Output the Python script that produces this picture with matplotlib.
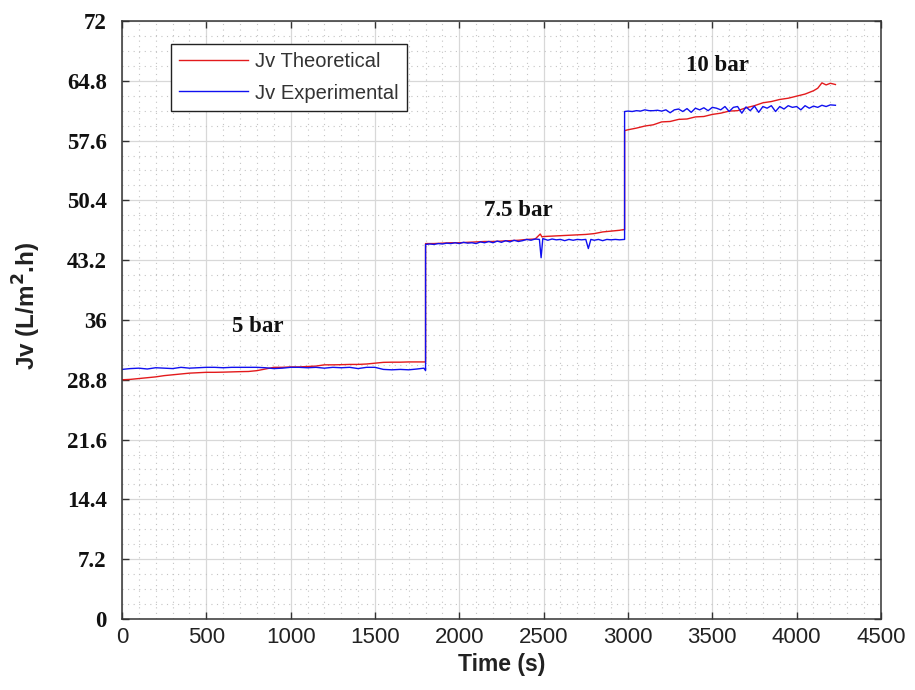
import matplotlib
matplotlib.use("Agg")
import matplotlib.pyplot as plt
from matplotlib.ticker import MultipleLocator
import numpy as np

# theoretical flux (red)
t_theo = [0, 50, 100, 150, 200, 250, 300, 350, 400, 450, 500, 550, 600, 650, 700, 750, 800, 850,
          900, 950, 1000, 1050, 1100, 1150, 1200, 1250, 1300, 1350, 1400, 1450, 1500, 1550, 1600,
          1650, 1700, 1750, 1800,
          1800, 1850, 1900, 1950, 2000, 2050, 2100, 2150, 2200, 2250, 2300, 2350, 2400, 2450,
          2480, 2490, 2500, 2550, 2600, 2650, 2700, 2750, 2800, 2850, 2900, 2950, 2980,
          2980, 3000, 3050, 3100, 3150, 3200, 3250, 3300, 3350, 3400, 3450, 3500, 3550, 3600,
          3650, 3700, 3750, 3800, 3850, 3900, 3950, 4000, 4050, 4100, 4125, 4150, 4175, 4200, 4230]
jv_theo = [28.8, 28.85, 28.95, 29.05, 29.15, 29.3, 29.4, 29.5, 29.6, 29.65, 29.7, 29.7, 29.72,
           29.75, 29.78, 29.8, 29.9, 30.1, 30.3, 30.3, 30.35, 30.35, 30.4, 30.45, 30.6, 30.6,
           30.62, 30.65, 30.65, 30.7, 30.8, 30.9, 30.92, 30.92, 30.95, 30.95, 30.95,
           45.2, 45.2, 45.25, 45.3, 45.3, 45.35, 45.4, 45.45, 45.45, 45.5, 45.55, 45.6, 45.7,
           45.75, 46.35, 46.0, 46.05, 46.1, 46.15, 46.2, 46.25, 46.3, 46.4, 46.6, 46.7, 46.8, 46.9,
           58.8, 58.9, 59.1, 59.35, 59.5, 59.85, 59.9, 60.15, 60.2, 60.45, 60.5, 60.75, 60.9,
           61.15, 61.2, 61.55, 61.8, 62.15, 62.3, 62.55, 62.7, 62.95, 63.2, 63.6, 63.9, 64.55,
           64.3, 64.5, 64.35]

# experimental flux (blue)
t_exp = [0, 50, 100, 150, 200, 250, 300, 350, 400, 450, 500, 550, 600, 650, 700, 750, 800, 850,
         900, 950, 1000, 1050, 1100, 1150, 1200, 1250, 1300, 1350, 1400, 1450, 1500, 1550, 1600,
         1650, 1700, 1750, 1790, 1800,
         1800, 1825, 1850, 1875, 1900, 1925, 1950, 1975, 2000, 2025, 2050, 2075, 2100, 2125,
         2150, 2175, 2200, 2225, 2250, 2275, 2300, 2325, 2350, 2375, 2400, 2425, 2450, 2475,
         2485, 2495, 2525, 2550, 2575, 2600, 2625, 2650, 2675, 2700, 2725, 2750, 2765, 2780,
         2800, 2825, 2850, 2875, 2900, 2925, 2950, 2975, 2980,
         2980, 3000, 3025, 3050, 3075, 3100, 3125, 3150, 3175, 3200, 3225, 3250, 3275, 3300,
         3325, 3350, 3375, 3400, 3425, 3450, 3475, 3500, 3525, 3550, 3575, 3600, 3625, 3650,
         3675, 3700, 3725, 3750, 3775, 3800, 3825, 3850, 3875, 3900, 3925, 3950, 3975, 4000,
         4025, 4050, 4075, 4100, 4125, 4150, 4175, 4200, 4230]
jv_exp = [30.05, 30.15, 30.2, 30.1, 30.25, 30.2, 30.15, 30.3, 30.2, 30.25, 30.3, 30.3, 30.25,
          30.3, 30.3, 30.3, 30.3, 30.25, 30.15, 30.2, 30.3, 30.3, 30.25, 30.3, 30.2, 30.3, 30.25,
          30.3, 30.15, 30.3, 30.3, 30.05, 30.0, 30.05, 30.0, 30.1, 30.2, 29.9,
          45.1, 45.15, 45.1, 45.2, 45.15, 45.25, 45.2, 45.3, 45.2, 45.35, 45.25, 45.3, 45.2, 45.4,
          45.3, 45.45, 45.3, 45.5, 45.35, 45.55, 45.4, 45.6, 45.45, 45.55, 45.7, 45.6, 45.75,
          45.7, 43.5, 45.8, 45.6, 45.75, 45.65, 45.7, 45.55, 45.7, 45.6, 45.7, 45.65, 45.7, 44.6,
          45.7, 45.6, 45.7, 45.55, 45.7, 45.65, 45.7, 45.65, 45.7, 45.7,
          61.1, 61.15, 61.1, 61.2, 61.15, 61.3, 61.2, 61.2, 61.25, 61.15, 61.3, 60.95, 61.3, 61.4,
          61.1, 61.45, 61.0, 61.5, 61.3, 61.55, 61.2, 61.6, 61.5, 61.3, 61.7, 61.1, 61.6, 61.7,
          60.9, 61.65, 61.2, 61.75, 61.0, 61.7, 61.5, 61.8, 61.1, 61.7, 61.4, 61.8, 61.6, 61.7,
          61.3, 61.8, 61.5, 61.75, 61.6, 61.85, 61.7, 61.9, 61.85]

yticks = [0, 7.2, 14.4, 21.6, 28.8, 36, 43.2, 50.4, 57.6, 64.8, 72]
ytick_labels = ["0", "7.2", "14.4", "21.6", "28.8", "36", "43.2", "50.4", "57.6", "64.8", "72"]
xticks = np.arange(0, 4501, 500)

annotations = [("5 bar", 806, 35.2), ("7.5 bar", 2350, 49.2), ("10 bar", 3530, 66.6)]

fig = plt.figure(figsize=(9.15, 6.9), dpi=100)
ax = fig.add_axes([0.1333, 0.1029, 0.8295, 0.8667])

ax.plot(t_theo, jv_theo, color="#e31a1c", lw=1.0, label="Jv Theoretical")
ax.plot(t_exp, jv_exp, color="#1010f0", lw=1.0, label="Jv Experimental")

ax.set_xlim(0, 4500)
ax.set_ylim(0, 72)
ax.set_xticks(xticks)
ax.set_yticks(yticks)
ax.set_yticklabels(ytick_labels)
ax.xaxis.set_minor_locator(MultipleLocator(100))
ax.yaxis.set_minor_locator(MultipleLocator(1.8))

ax.grid(which="major", color="#d8d8d8", lw=0.9, ls="-")
ax.grid(which="minor", color="#c4c4c4", lw=0.8, ls=(0, (1, 4)))
ax.set_axisbelow(True)

ax.tick_params(which="major", direction="in", length=5, width=1, top=True, right=True,
               color="#333333")
ax.tick_params(which="minor", length=0)
ax.tick_params(axis="y", pad=11)
ax.tick_params(axis="x", pad=6)
for sp in ax.spines.values():
    sp.set_color("#333333")
    sp.set_linewidth(1.1)

for lab in ax.get_yticklabels():
    lab.set_family(["Liberation Serif", "DejaVu Serif"])
    lab.set_fontweight("bold")
    lab.set_fontsize(16.5)
    lab.set_color("#111111")
for lab in ax.get_xticklabels():
    lab.set_family(["Liberation Sans", "DejaVu Sans"])
    lab.set_fontsize(16)
    lab.set_color("#222222")

ax.set_xlabel("Time (s)", fontsize=16.5, fontweight="bold",
              family=["Liberation Sans", "DejaVu Sans"], color="#222222")
ax.set_ylabel("Jv (L/m$^\\mathbf{2}$.h)", fontsize=17.5, fontweight="bold",
              family=["Liberation Sans", "DejaVu Sans"], color="#222222")
ax.xaxis.set_label_coords(0.5, -0.057)
ax.yaxis.set_label_coords(-0.104, 0.523)

for txt, tx, ty in annotations:
    ax.text(tx, ty, txt, ha="center", va="center", fontsize=16.5, fontweight="bold",
            family=["Liberation Serif", "DejaVu Serif"], color="#111111")

leg = ax.legend(loc="upper left", bbox_to_anchor=(0.0646, 0.9615), borderaxespad=0,
                prop={"family": ["Liberation Sans", "DejaVu Sans"], "size": 14.5},
                handlelength=3.4, borderpad=0.42, labelspacing=0.6, handletextpad=0.35,
                fancybox=False, framealpha=1)
leg.get_frame().set_edgecolor("#222222")
leg.get_frame().set_linewidth(1.0)
for t in leg.get_texts():
    t.set_color("#333333")

fig.savefig("out.png", dpi=100)
